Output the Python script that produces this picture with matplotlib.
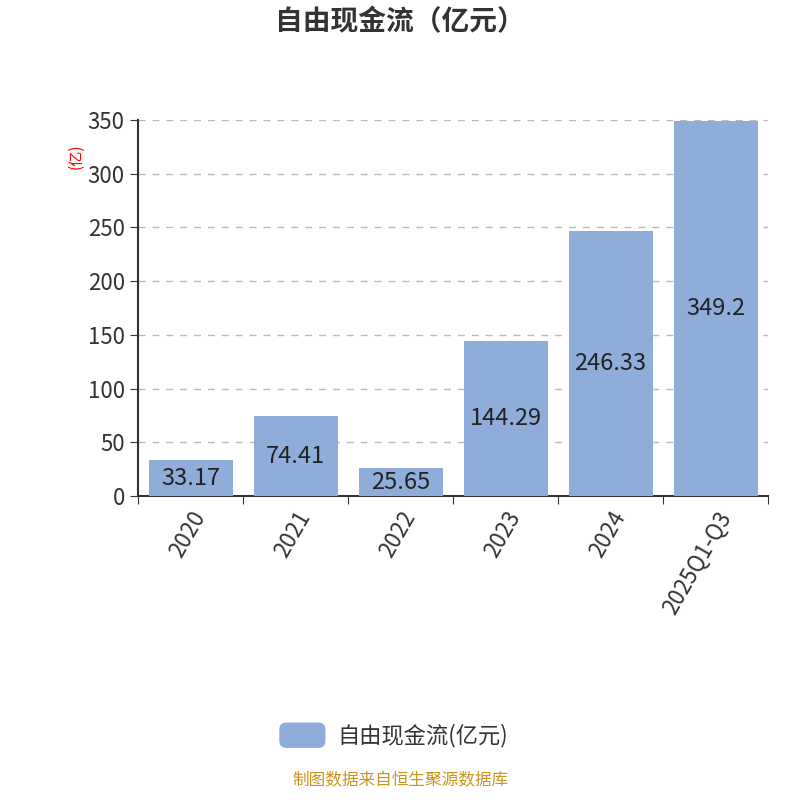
import matplotlib
matplotlib.use("Agg")
import matplotlib.pyplot as plt
from matplotlib.patches import FancyBboxPatch

plt.rcParams['font.family'] = ['Noto Sans CJK SC', 'DejaVu Sans']

categories = ["2020", "2021", "2022", "2023", "2024", "2025Q1-Q3"]
values = [33.17, 74.41, 25.65, 144.29, 246.33, 349.2]
labels = ["33.17", "74.41", "25.65", "144.29", "246.33", "349.2"]
yticks = [0, 50, 100, 150, 200, 250, 300, 350]
color = "#8eadd9"

fig = plt.figure(figsize=(8, 8), dpi=100)
ax = fig.add_axes([0.1725, 0.38, 0.7875, 0.47])
x = range(len(categories))
ax.bar(x, values, width=0.8, color=color, zorder=3)
for i, (v, l) in enumerate(zip(values, labels)):
    ax.text(i, v / 2, l, ha='center', va='center', fontsize=17, color='#222222', zorder=4)
ax.set_xlim(-0.5, len(categories) - 0.5)
ax.set_ylim(0, 350)
ax.set_yticks(yticks)
ax.set_yticklabels([str(t) for t in yticks], fontsize=16, color='#333333')
ax.set_xticks([i - 0.5 for i in range(len(categories) + 1)], minor=False)
ax.set_xticklabels([""] * (len(categories) + 1))
ax.set_xticks(list(x), minor=True)
ax.set_xticklabels(categories, minor=True, rotation=60, ha='right', rotation_mode='anchor', fontsize=16, color='#333333')
ax.tick_params(axis='x', which='minor', length=0, pad=8)
ax.tick_params(axis='x', which='major', length=6, color='#333333')
ax.tick_params(axis='y', length=6, color='#333333')
ax.grid(axis='y', linestyle=(0, (5, 5)), color='#bbbbbb', linewidth=1, zorder=0)
for s in ['top', 'right']:
    ax.spines[s].set_visible(False)
ax.spines['left'].set_color('#333333')
ax.spines['bottom'].set_color('#333333')
ax.spines['left'].set_linewidth(1.5)
ax.spines['bottom'].set_linewidth(1.5)

fig.text(0.095, 0.805, "(亿)", rotation=90, color='red', fontsize=11, ha='center', va='center')
fig.text(0.5, 0.972, "自由现金流（亿元）", ha='center', va='center', fontsize=20, fontweight='bold', color='#333333')

fig.patches.append(FancyBboxPatch((0.35, 0.066), 0.056, 0.03, boxstyle="round,pad=0,rounding_size=0.008",
                                  transform=fig.transFigure, color=color))
fig.text(0.422, 0.081, "自由现金流(亿元)", ha='left', va='center', fontsize=16, color='#333333')
fig.text(0.5, 0.012 + 0.0, "", ha='center')
fig.text(0.5, 0.024, "制图数据来自恒生聚源数据库", ha='center', va='center', fontsize=12, color='#c8961e')

fig.savefig("out.png", dpi=100)
